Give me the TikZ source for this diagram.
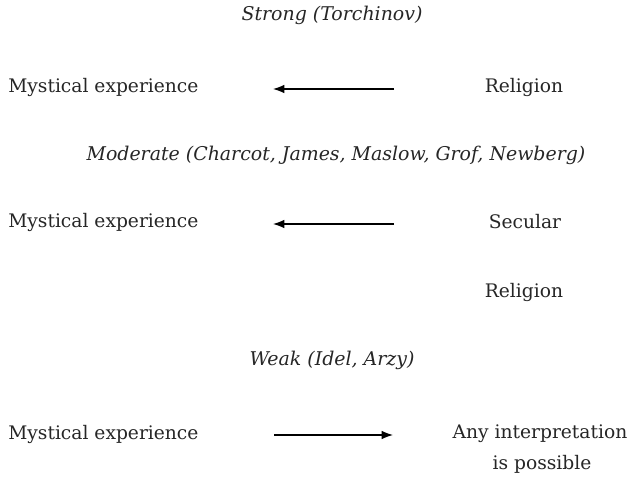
\documentclass[tikz,border=0pt]{standalone}
\usepackage{fontspec}
\setmainfont{DejaVu Serif}
\usetikzlibrary{arrows.meta}

\begin{document}
\begin{tikzpicture}[x=.75pt, y=-.75pt,
    every node/.style={font=\fontsize{14}{17}\selectfont, inner sep=0pt, text=black!85},
    claim/.style={font=\fontsize{14.2}{17}\selectfont\itshape},
    link/.style={-{Latex[length=8.5pt, width=6.5pt]}, line width=1pt}]
    \useasboundingbox (0, 0) rectangle (629, 481);

    % Strong
    \node (strong_claim) at (332, 15) [claim] {Strong (Torchinov)};
    \node (strong_mystic) at (8, 87) [right] {Mystical experience};
    \node (strong_religion) at (524, 87) {Religion};
    \coordinate (strong_tail) at (394, 89);
    \coordinate (strong_head) at (273, 89);
    \draw [link] (strong_tail) -- (strong_head);

    % Moderate
    \node (moderate_claim) at (336, 155) [claim]
        {Moderate (Charcot, James, Maslow, Grof, Newberg)};
    \node (moderate_mystic) at (8, 222) [right] {Mystical experience};
    \node (moderate_secular) at (525, 222) {Secular};
    \node (moderate_religion) at (524, 292) {Religion};
    \coordinate (moderate_tail) at (394, 224);
    \coordinate (moderate_head) at (273, 224);
    \draw [link] (moderate_tail) -- (moderate_head);

    % Weak
    \node (weak_claim) at (332, 360) [claim] {Weak (Idel, Arzy)};
    \node (weak_mystic) at (8, 434) [right] {Mystical experience};
    \node (weak_any) at (540, 434) {Any interpretation};
    \node (weak_possible) at (542, 464) {is possible};
    \coordinate (weak_tail) at (274, 435);
    \coordinate (weak_head) at (393, 435);
    \draw [link] (weak_tail) -- (weak_head);
\end{tikzpicture}
\end{document}
